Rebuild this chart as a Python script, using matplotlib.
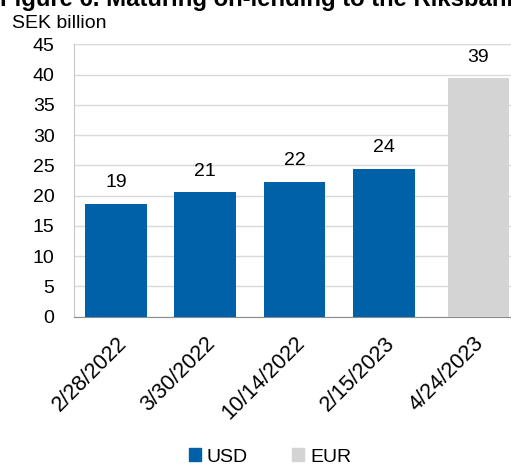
import matplotlib.pyplot as plt
from matplotlib.patches import Patch
import matplotlib.transforms as mtransforms

dates = ['2/28/2022', '3/30/2022', '10/14/2022', '2/15/2023', '4/24/2023']
usd = [18.7, 20.6, 22.3, 24.4, 0]
eur = [0, 0, 0, 0, 39.4]
colors = {'USD': '#0061a8', 'EUR': '#d4d4d4'}

plt.rcParams['font.family'] = ['Liberation Sans', 'DejaVu Sans']
fs = 14

fig = plt.figure(figsize=(5.11, 4.65), dpi=100)
ax = fig.add_axes([74 / 511, 148.3 / 465, 446.5 / 511, 272.4 / 465])

x = list(range(len(dates)))
b1 = ax.bar(x, usd, width=0.69, color=colors['USD'], zorder=3)
# EUR bar sits a little to the right of its slot in the original
b2 = ax.bar([i + 0.06 for i in x], eur, width=0.69, color=colors['EUR'], zorder=3)
ax.bar_label(b1, labels=[f'{v:.0f}' if v else '' for v in usd], padding=9, fontsize=fs)
ax.bar_label(b2, labels=[f'{v:.0f}' if v else '' for v in eur], padding=9, fontsize=fs)

ax.set_xlim(-0.47, 4.53)
ax.set_ylim(0, 45)
ax.set_yticks(range(0, 46, 5))
ax.yaxis.grid(True, color='#d9d9d9', linewidth=1, zorder=0)
ax.tick_params(axis='y', length=0, pad=14, labelsize=fs)
ax.tick_params(axis='x', length=0, labelsize=15.5)

ax.set_xticks(x)
ax.set_xticklabels(dates, rotation=45, ha='right', va='top', rotation_mode='anchor')
offset = mtransforms.ScaledTranslation(0 / 100, -11 / 100, fig.dpi_scale_trans)
for lab in ax.get_xticklabels():
    lab.set_transform(lab.get_transform() + offset)

for s in ['top', 'right']:
    ax.spines[s].set_visible(False)
ax.spines['left'].set_color('#c8c8c8')
ax.spines['bottom'].set_color('#8c8c8c')

fig.text(0, 1 - 6 / 465, 'Figure 6. Maturing on-lending to the Riksbank', fontsize=17.2,
         fontweight='bold', va='baseline', ha='left')
fig.text(12 / 511, 1 - 28 / 465, 'SEK billion', fontsize=fs, va='baseline', ha='left')

handles = [Patch(color=colors['USD'], label='USD'), Patch(color=colors['EUR'], label='EUR')]
fig.legend(handles=handles, loc='center', bbox_to_anchor=(270 / 511, 1 - 457 / 465), ncol=2,
           frameon=False, fontsize=fs, handlelength=0.62, handleheight=0.62,
           handletextpad=0.3, columnspacing=2.3)

fig.savefig('out.png', dpi=100)
